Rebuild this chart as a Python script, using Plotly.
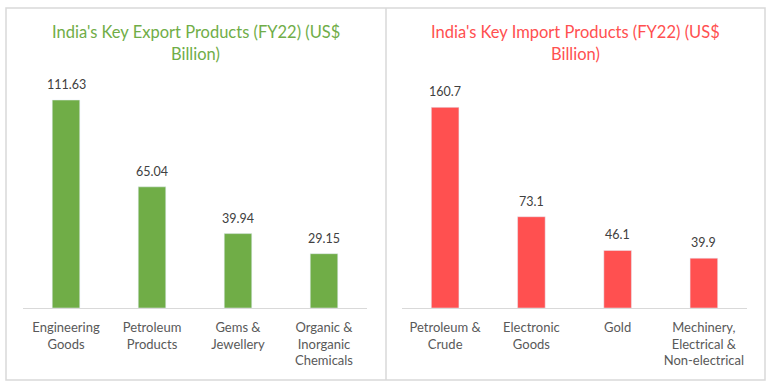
import plotly.graph_objects as go

W, H = 770, 385

export_categories = ["Engineering Goods", "Petroleum Products", "Gems & Jewellery", "Organic & Inorganic Chemicals"]
export_tick_labels = ["Engineering<br>Goods", "Petroleum<br>Products", "Gems &<br>Jewellery", "Organic &<br>Inorganic<br>Chemicals"]
export_values = [111.63, 65.04, 39.94, 29.15]
export_text = ["111.63", "65.04", "39.94", "29.15"]

import_categories = ["Petroleum & Crude", "Electronic Goods", "Gold", "Mechinery, Electrical & Non-electrical"]
import_tick_labels = ["Petroleum &<br>Crude", "Electronic<br>Goods", "Gold", "Mechinery,<br>Electrical &<br>Non-electrical"]
import_values = [160.7, 73.1, 46.1, 39.9]
import_text = ["160.7", "73.1", "46.1", "39.9"]

GREEN = "#70AD47"
RED = "#FF5050"
FONT = "Lato"
LABEL_COLOR = "#404040"
TICK_COLOR = "#595959"
BORDER = "#D9D9D9"

fig = go.Figure()
fig.add_trace(go.Bar(x=export_categories, y=export_values, marker_color=GREEN,
                     width=0.32, xaxis="x", yaxis="y", hoverinfo="x+y"))
fig.add_trace(go.Bar(x=import_categories, y=import_values, marker_color=RED,
                     width=0.32, xaxis="x2", yaxis="y2", hoverinfo="x+y"))

for cats, vals, texts, xr, yr in ((export_categories, export_values, export_text, "x", "y"),
                                  (import_categories, import_values, import_text, "x2", "y2")):
    for c, v, t in zip(cats, vals, texts):
        fig.add_annotation(x=c, y=v, text=t, xref=xr, yref=yr, showarrow=False,
                           xanchor="center", yanchor="bottom", yshift=6,
                           font=dict(family=FONT, size=12.5, color=LABEL_COLOR))

ydom = [(385 - 308) / H, (385 - 77) / H]

def xaxis_cfg(dom, cats, ticks, anchor):
    return dict(domain=dom, anchor=anchor, type="category", range=[-0.5, 3.5],
                tickmode="array", tickvals=cats, ticktext=ticks,
                showline=True, linecolor=BORDER, linewidth=1, ticks="",
                ticklabelstandoff=7,
                showgrid=False, zeroline=False,
                tickfont=dict(family=FONT, size=13, color=TICK_COLOR))

fig.update_layout(
    width=W, height=H, margin=dict(l=0, r=0, t=0, b=0),
    paper_bgcolor="white", plot_bgcolor="white", showlegend=False,
    xaxis=xaxis_cfg([23 / W, 367 / W], export_categories, export_tick_labels, "y"),
    xaxis2=xaxis_cfg([402 / W, 747 / W], import_categories, import_tick_labels, "y2"),
    yaxis=dict(domain=ydom, range=[0, 124.0], visible=False, showgrid=False, zeroline=False),
    yaxis2=dict(domain=ydom, range=[0, 185.0], visible=False, showgrid=False, zeroline=False, anchor="x2"),
)

def px_x(v):
    return v / W

def px_y(v):
    return (H - v) / H

# panel borders
fig.add_shape(type="rect", xref="paper", yref="paper",
              x0=px_x(6), x1=px_x(765), y0=px_y(380), y1=px_y(8),
              line=dict(color=BORDER, width=1.5), layer="below")
fig.add_shape(type="line", xref="paper", yref="paper",
              x0=px_x(386), x1=px_x(386), y0=px_y(380), y1=px_y(8),
              line=dict(color=BORDER, width=1.5), layer="below")

titles = [
    ("India's Key Export Products (FY22) (US$", "Billion)", 196, GREEN),
    ("India's Key Import Products (FY22) (US$", "Billion)", 575.5, RED),
]
for l1, l2, cx, col in titles:
    for txt, cy in ((l1, 32), (l2, 54)):
        fig.add_annotation(text=txt, xref="paper", yref="paper",
                           x=px_x(cx), y=px_y(cy), showarrow=False,
                           xanchor="center", yanchor="middle",
                           font=dict(family=FONT, size=16.5, color=col))

fig.write_html("out.html", config={"displayModeBar": False},
               post_script="document.body.style.margin='0';document.body.style.overflow='hidden';")
